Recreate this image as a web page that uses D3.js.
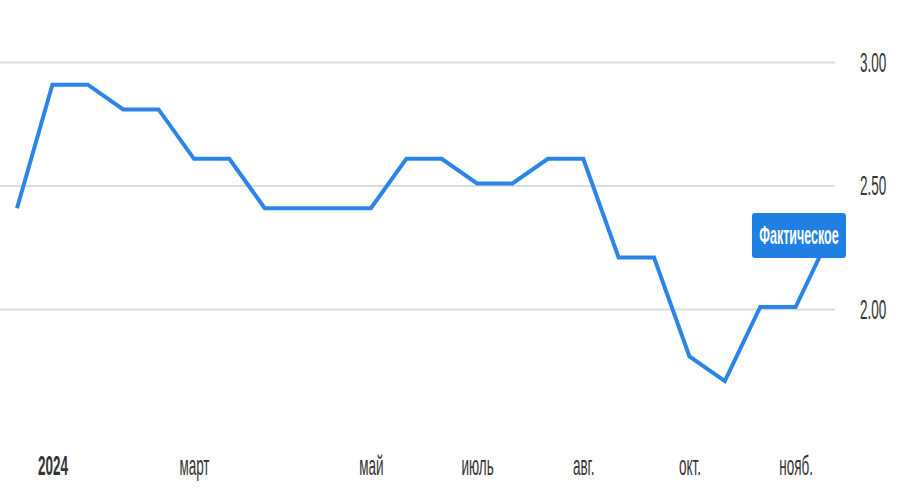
<!DOCTYPE html>
<html><head><meta charset="utf-8">
<script src="https://cdn.jsdelivr.net/npm/d3@7"></script>
<style>html,body{margin:0;padding:0;background:#fff;}svg{display:block;}</style>
</head><body>
<svg id="c" width="900" height="500"></svg>
<script>
const values = [2.4, 2.9, 2.9, 2.8, 2.8, 2.6, 2.6, 2.4, 2.4, 2.4, 2.4, 2.6, 2.6, 2.5, 2.5, 2.6, 2.6, 2.2, 2.2, 1.8, 1.7, 2.0, 2.0, 2.3];
const xTickIndex = [1, 5, 10, 13, 16, 19, 22];
const xTickLabels = ["2024", "март", "май", "июль", "авг.", "окт.", "нояб."];
const yTicks = [2.0, 2.5, 3.0];
const seriesName = "Фактическое";

const svg = d3.select("#c");
const x = d3.scaleLinear().domain([0, values.length - 1]).range([17, 831]);
const y = d3.scaleLinear().domain([2, 3]).range([309, 62]);
const SX = 0.5;

// grid
const yAxis = d3.axisRight(y).tickValues(yTicks).tickSize(835).tickFormat(d3.format(".2f"));
const gy = svg.append("g").call(yAxis);
gy.select(".domain").remove();
gy.selectAll(".tick line").attr("stroke", "#d9dddd").attr("stroke-width", 2);
gy.selectAll(".tick text").remove();
gy.selectAll(".tick").append("text")
  .attr("transform", "translate(860,9) scale(" + SX + ",1)")
  .attr("text-anchor", "start")
  .attr("fill", "#333")
  .style("font-family", "Liberation Sans, Arial, sans-serif")
  .style("font-size", "27px")
  .text(d => d3.format(".2f")(d));

// x axis labels
const xAxis = d3.axisBottom(x).tickValues(xTickIndex).tickSize(0).tickFormat((d, i) => xTickLabels[i]);
const gx = svg.append("g").attr("transform", "translate(0,463)").call(xAxis);
gx.select(".domain").remove();
gx.selectAll(".tick text").remove();
gx.selectAll(".tick").append("text")
  .attr("transform", "translate(0,12) scale(" + SX + ",1)")
  .attr("text-anchor", "middle")
  .attr("fill", "#333")
  .style("font-family", "Liberation Sans, Arial, sans-serif")
  .style("font-size", "27px")
  .style("font-weight", (d, i) => i === 0 ? "bold" : "normal")
  .text((d, i) => xTickLabels[i]);

// line
const line = d3.line().x((d, i) => x(i)).y(d => y(d) - 2);
svg.append("path").datum(values)
  .attr("d", line)
  .attr("fill", "none")
  .attr("stroke", "#2a85e6")
  .attr("stroke-width", 4)
  .attr("stroke-linejoin", "miter");

// series label
const lg = svg.append("g").attr("transform", "translate(752,213)");
lg.append("rect").attr("width", 94).attr("height", 45).attr("rx", 3).attr("fill", "#1f7fe3");
lg.append("text")
  .attr("transform", "translate(47,31) scale(" + SX + ",1)")
  .attr("text-anchor", "middle")
  .attr("fill", "#fff")
  .style("font-family", "Liberation Sans, Arial, sans-serif")
  .style("font-size", "25px")
  .style("font-weight", "bold")
  .text(seriesName);
</script>
</body></html>
